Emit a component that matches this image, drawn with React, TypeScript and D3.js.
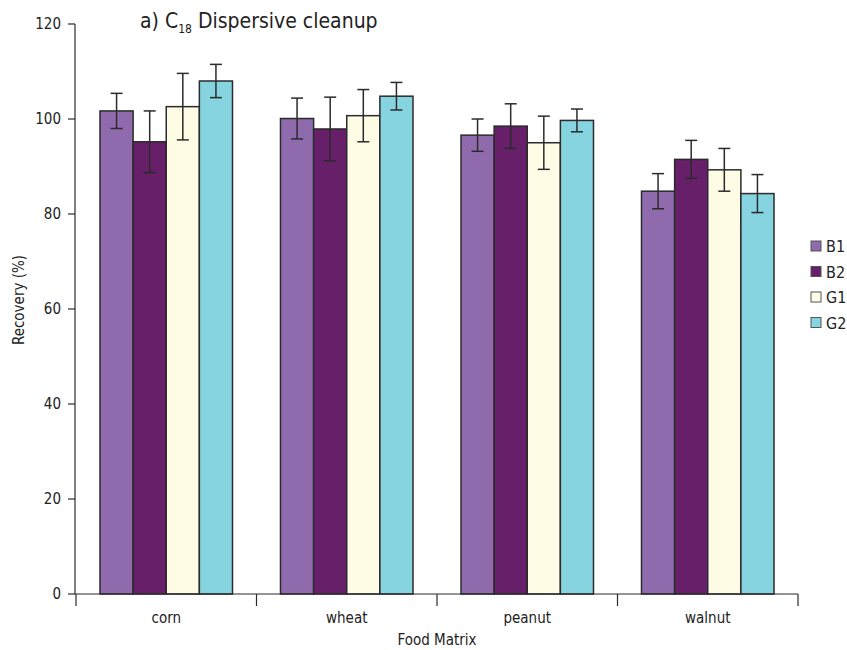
import * as d3 from "d3";

const categories = ["corn", "wheat", "peanut", "walnut"];
const series = ["B1", "B2", "G1", "G2"];
const colors = ["#8f6bae", "#661f68", "#fffce6", "#87d4e1"];
// recovery (%) per series, by category
const means = [
  [101.7, 100.1, 96.6, 84.8],
  [95.2, 97.9, 98.5, 91.5],
  [102.6, 100.7, 95.0, 89.3],
  [108.0, 104.8, 99.7, 84.3],
];
// standard deviations
const errors = [
  [3.7, 4.3, 3.4, 3.7],
  [6.5, 6.7, 4.7, 4.0],
  [7.0, 5.5, 5.6, 4.5],
  [3.5, 2.9, 2.4, 4.0],
];
const yTicks = [0, 20, 40, 60, 80, 100, 120];

const W = 847;
const H = 650;
const font = "'Liberation Sans Narrow', 'DejaVu Sans Condensed', 'Roboto Condensed', sans-serif";
const ink = "#2b2b2b";

export default function App() {
  const x0 = d3.scaleBand().domain(categories).range([76, 798]);
  const bw = x0.bandwidth();
  const x1 = d3.scaleBand().domain(series).range([24, bw - 24]);
  const y = d3.scaleLinear().domain([0, 120]).range([594, 24]);
  const cap = 6;

  return (
    <svg
      width={W}
      height={H}
      style={{ position: "absolute", left: 0, top: 0, background: "#fff" }}
      fontFamily={font}
    >
      {/* title */}
      <text x={140} y={28} fontSize={21} fill="#222">
        a) C
        <tspan fontSize={12} dy={5}>18</tspan>
        <tspan dy={-5}> Dispersive cleanup</tspan>
      </text>

      {/* bars */}
      {series.map((s, si) => (
        <g key={s}>
          {categories.map((c, ci) => {
            const v = means[si][ci];
            const bx = (x0(c) as number) + (x1(s) as number);
            return (
              <rect
                key={c}
                x={bx}
                y={y(v)}
                width={x1.bandwidth()}
                height={y(0) - y(v)}
                fill={colors[si]}
                stroke={ink}
                strokeWidth={1.5}
              />
            );
          })}
        </g>
      ))}

      {/* error bars */}
      {series.map((s, si) => (
        <g key={s} stroke={ink} strokeWidth={1.5}>
          {categories.map((c, ci) => {
            const v = means[si][ci];
            const e = errors[si][ci];
            const cx = (x0(c) as number) + (x1(s) as number) + x1.bandwidth() / 2;
            return (
              <g key={c}>
                <line x1={cx} x2={cx} y1={y(v + e)} y2={y(v - e)} />
                <line x1={cx - cap} x2={cx + cap} y1={y(v + e)} y2={y(v + e)} />
                <line x1={cx - cap} x2={cx + cap} y1={y(v - e)} y2={y(v - e)} />
              </g>
            );
          })}
        </g>
      ))}

      {/* y axis */}
      <line x1={75} x2={75} y1={y(120)} y2={y(0)} stroke={ink} strokeWidth={1.2} />
      {yTicks.map((t) => (
        <g key={t}>
          <line x1={68} x2={75} y1={y(t)} y2={y(t)} stroke={ink} strokeWidth={1.2} />
          <text x={61} y={y(t)} dy="0.35em" textAnchor="end" fontSize={15} fill="#222">
            {t}
          </text>
        </g>
      ))}
      <text
        transform={`translate(24,${300}) rotate(-90)`}
        textAnchor="middle"
        fontSize={15}
        fill="#222"
      >
        Recovery (%)
      </text>

      {/* x axis */}
      <line x1={75} x2={798} y1={y(0)} y2={y(0)} stroke={ink} strokeWidth={1.2} />
      {[...categories.map((c) => x0(c) as number), 798].map((tx, i) => (
        <line key={i} x1={tx} x2={tx} y1={y(0)} y2={y(0) + 12} stroke={ink} strokeWidth={1.2} />
      ))}
      {categories.map((c) => (
        <text
          key={c}
          x={(x0(c) as number) + bw / 2}
          y={623}
          textAnchor="middle"
          fontSize={15}
          fill="#222"
        >
          {c}
        </text>
      ))}
      <text x={437} y={645} textAnchor="middle" fontSize={15} fill="#222">
        Food Matrix
      </text>

      {/* legend */}
      {series.map((s, i) => (
        <g key={s} transform={`translate(811,${241 + i * 25.5})`}>
          <rect width={10} height={10} fill={colors[i]} stroke="#555" strokeWidth={1} />
          <text x={15} y={5} dy="0.38em" fontSize={16} fill="#222">
            {s}
          </text>
        </g>
      ))}
    </svg>
  );
}
